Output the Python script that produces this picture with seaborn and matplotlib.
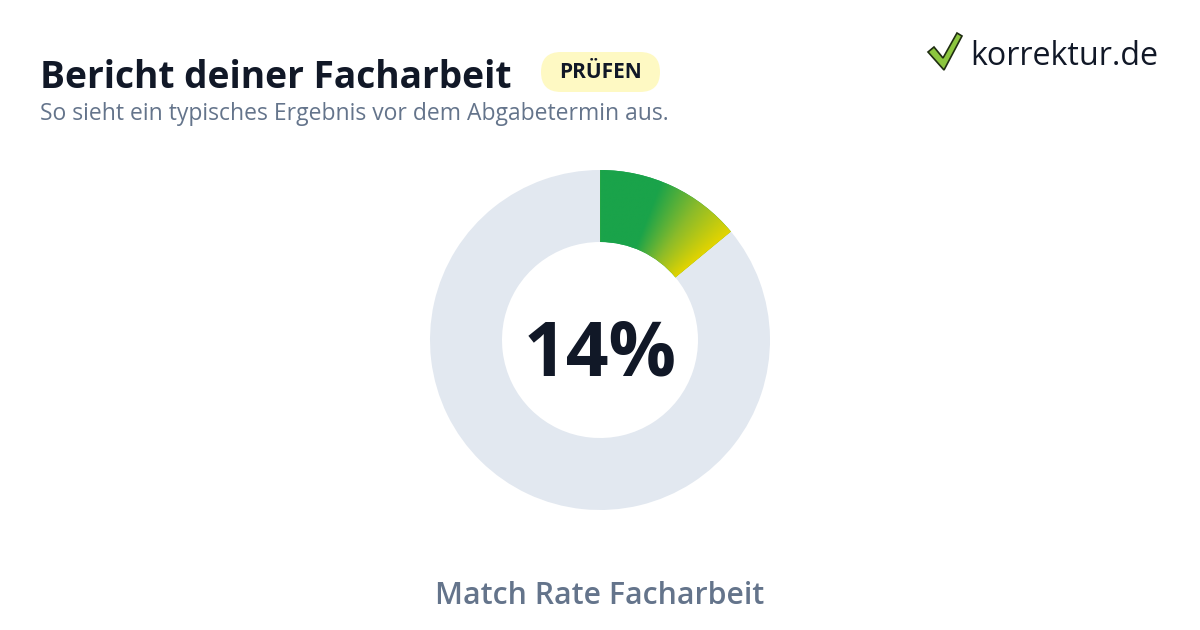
import numpy as np
import matplotlib
matplotlib.use("Agg")
import matplotlib.pyplot as plt
import seaborn as sns
from matplotlib.patches import FancyBboxPatch, Polygon
from matplotlib.colors import LinearSegmentedColormap

# data
labels = ["Match", "Rest"]
values = [14, 86]
center_label = "14%"
title = "Bericht deiner Facharbeit"
subtitle = "So sieht ein typisches Ergebnis vor dem Abgabetermin aus."
badge = "PRÜFEN"
caption = "Match Rate Facharbeit"
logo = "korrektur.de"

sns.set_theme(style="white")
plt.rcParams["font.family"] = ["Open Sans", "Noto Sans", "DejaVu Sans"]

dark = "#111827"
slate = "#64748b"
ring_grey = "#e2e8f0"

fig = plt.figure(figsize=(12, 6.3), dpi=100)
fig.patch.set_facecolor("white")

# donut: centre (600, 340) px, outer r 170, inner r 98
W, H = 1200, 630
cx, cy, r = 600, 340, 170
ax = fig.add_axes([(cx - r) / W, (H - cy - r) / H, 2 * r / W, 2 * r / H])
wedges, _ = ax.pie(values, startangle=90, counterclock=False,
                   colors=["#1aa34a", ring_grey], radius=1,
                   wedgeprops=dict(width=1 - 98 / 170, linewidth=0))
ax.set_xlim(-1, 1)
ax.set_ylim(-1, 1)
ax.set_aspect("equal")
ax.axis("off")

# angular green -> yellow gradient clipped to the match wedge
n = 400
xs = np.linspace(-1, 1, n)
X, Y = np.meshgrid(xs, xs)
ang = np.degrees(np.arctan2(X, Y)) % 360  # clockwise from top
span = values[0] / sum(values) * 360
t = np.clip((ang / span - 0.42) / 0.58, 0, 1)
cmap = LinearSegmentedColormap.from_list("gy", ["#1aa34a", "#8bbb2a", "#e3d400"], N=256)
img = ax.imshow(t, extent=(-1, 1, -1, 1), origin="lower", cmap=cmap, vmin=0, vmax=1,
                interpolation="bilinear", zorder=3)
img.set_clip_path(wedges[0])

ax.text(0, -35 / r, center_label, ha="center", va="baseline", fontsize=54,
        fontweight="bold", color=dark, zorder=5)

# header
fig.text(40 / W, 1 - 88 / H, title, fontsize=26.7, fontweight="bold", color=dark,
         ha="left", va="baseline")
fig.text(40 / W, 1 - 120 / H, subtitle, fontsize=16.5, color=slate,
         ha="left", va="baseline")

# badge
bx0, by0, bw, bh = 541, 52, 119, 40
fig.patches.append(FancyBboxPatch((bx0 / W, 1 - (by0 + bh) / H), bw / W, bh / H,
                                  boxstyle="round,pad=0,rounding_size=%f" % (bh / 2 / W),
                                  mutation_aspect=W / H,
                                  transform=fig.transFigure, facecolor="#fef9c3",
                                  edgecolor="none"))
fig.text((bx0 + bw / 2) / W, 1 - 73 / H, badge, fontsize=15, fontweight="bold",
         color=dark, ha="center", va="center")

# logo
tick_pts = [(928, 52), (934, 47), (943, 58), (957, 33), (962, 36), (944, 70)]
check = Polygon([(x / W, 1 - y / H) for x, y in tick_pts], closed=True,
                transform=fig.transFigure, facecolor="#8cc63f", edgecolor="#1f2d12",
                linewidth=1.2)
fig.patches.append(check)
fig.text(970 / W, 1 - 65 / H, logo, fontsize=23.2, color=dark, ha="left", va="baseline")

# caption
fig.text(0.5, 1 - 596 / H, caption, fontsize=21.8, fontweight="semibold", color=slate,
         ha="center", va="center")

fig.savefig("out.png", dpi=100, facecolor="white")
